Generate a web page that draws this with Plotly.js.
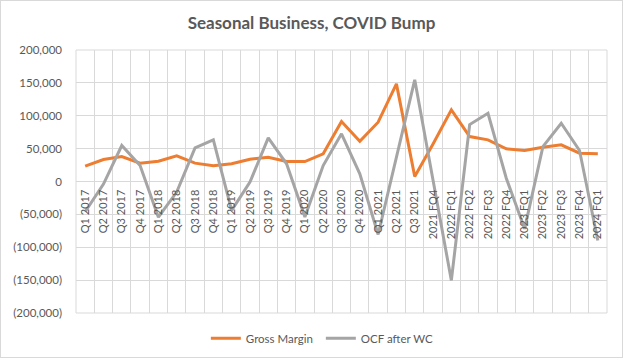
<!DOCTYPE html>
<html>
<head>
<meta charset="utf-8">
<script src="https://cdn.plot.ly/plotly-3.0.1.min.js"></script>
<style>
  html, body { margin: 0; padding: 0; background: #fff; }
  #wrap { position: relative; width: 623px; height: 358px; }
  #chart { position: absolute; left: 0; top: 0; width: 623px; height: 358px; }
  #frame { position: absolute; left: 0; top: 0; width: 621px; height: 356px; border: 1px solid #d9d9d9; pointer-events: none; }
</style>
</head>
<body>
<div id="wrap"><div id="chart"></div><div id="frame"></div></div>
<script>
const quarters = ["Q1 2017","Q2 2017","Q3 2017","Q4 2017","Q1 2018","Q2 2018","Q3 2018","Q4 2018",
  "Q1 2019","Q2 2019","Q3 2019","Q4 2019","Q1 2020","Q2 2020","Q3 2020","Q4 2020",
  "Q1 2021","Q2 2021","Q3 2021","2021 FQ4","2022 FQ1","2022 FQ2","2022 FQ3","2022 FQ4",
  "2023 FQ1","2023 FQ2","2023 FQ3","2023 FQ4","2024 FQ1"];
const grossMargin = [23300,33400,38000,27900,30900,39000,27900,23800,
  26900,33900,36900,30400,30400,42100,91200,61300,
  90200,148500,7600,57000,109000,68400,63300,49700,
  47100,52200,55800,43000,42100];
const ocfAfterWC = [-46000,-4000,54700,24300,-54200,-16000,51200,63300,
  -44000,-1000,66400,26900,-54000,24300,72500,11700,
  -80600,35000,154600,2000,-150500,86600,103800,5000,
  -72000,53000,88600,47100,-89700];
const yTickVals = [-200000,-150000,-100000,-50000,0,50000,100000,150000,200000];
const yTickText = ["(200,000)","(150,000)","(100,000)","(50,000)","0","50,000","100,000","150,000","200,000"];

const FONT = "Lato, 'Open Sans', sans-serif";
const TXT = "#595959";
const GRID = "#d9d9d9";

const traces = [
  { type: "scatter", mode: "lines", name: "Gross Margin", x: quarters, y: grossMargin,
    line: { color: "#ED7D31", width: 3 } },
  { type: "scatter", mode: "lines", name: "OCF after WC", x: quarters, y: ocfAfterWC,
    line: { color: "#A5A5A5", width: 3 } }
];

const layout = {
  width: 623, height: 358,
  margin: { l: 76, r: 16, t: 50, b: 45 },
  paper_bgcolor: "#fff", plot_bgcolor: "#fff",
  font: { family: FONT, color: TXT, size: 11 },
  title: { text: "Seasonal Business, COVID Bump", x: 0.5, xanchor: "center", xref: "container",
    y: 0.937, yref: "container", yanchor: "middle",
    font: { family: FONT, size: 17, color: TXT, weight: "bold" } },
  showlegend: true,
  legend: { orientation: "h", xref: "container", x: 0.515, xanchor: "center",
    yref: "container", y: 0.055, yanchor: "middle",
    font: { family: FONT, size: 11.5, color: TXT }, itemwidth: 30, traceorder: "normal",
    entrywidth: 70, entrywidthmode: "pixels" },
  xaxis: {
    type: "category", range: [-0.5, quarters.length - 0.5],
    anchor: "free", position: 0.5,
    tickson: "boundaries", showgrid: true, gridcolor: GRID, gridwidth: 1,
    ticks: "", showline: false, zeroline: false, ticklabelstandoff: 5,
    tickangle: -90, tickfont: { family: FONT, size: 11, color: TXT },
    automargin: false
  },
  yaxis: {
    range: [-200000, 200000], tickvals: yTickVals, ticktext: yTickText,
    showgrid: true, gridcolor: GRID, gridwidth: 1,
    zeroline: true, zerolinecolor: GRID, zerolinewidth: 1,
    ticks: "", showline: false, ticklabelstandoff: 13,
    tickfont: { family: FONT, size: 11.5, color: TXT },
    automargin: false
  },
  shapes: [{ type: "rect", xref: "paper", yref: "paper", x0: 0, x1: 1, y0: 0, y1: 1,
    line: { color: GRID, width: 1 }, layer: "below" }]
};

Plotly.newPlot("chart", traces, layout, { staticPlot: true, displayModeBar: false });
</script>
</body>
</html>
